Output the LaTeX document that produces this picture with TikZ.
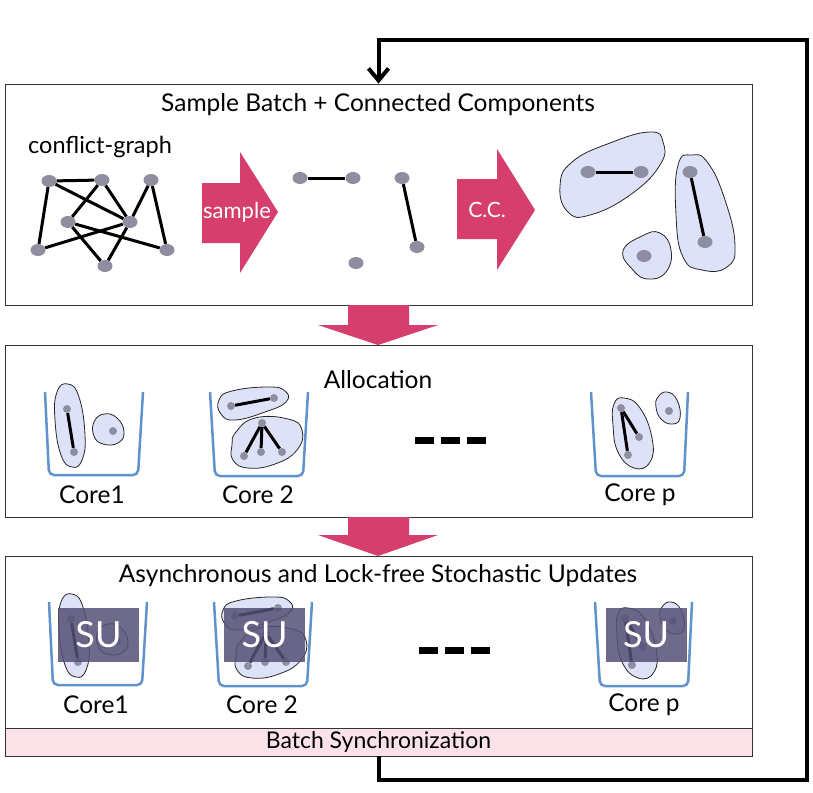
\documentclass[tikz,border=0pt]{standalone}
\usepackage{fontspec}
\setmainfont{Lato}
\usetikzlibrary{arrows.meta,shapes.geometric,positioning}

\definecolor{arrowpink}{RGB}{214,62,110}
\definecolor{vertexgray}{RGB}{142,142,160}
\definecolor{blobfill}{RGB}{222,226,248}
\definecolor{binblue}{RGB}{96,146,204}
\definecolor{sufill}{RGB}{84,80,118}
\definecolor{syncpink}{RGB}{250,226,232}

\tikzset{
  panel/.style={draw=black!80, line width=0.9pt, inner sep=0pt},
  vertex/.style={ellipse, fill=vertexgray, minimum width=15pt, minimum height=12pt, inner sep=0pt},
  dot/.style={circle, fill=vertexgray, minimum size=8pt, inner sep=0pt},
  gedge/.style={line width=3pt},
  blob/.style={draw=black!85, fill=blobfill, line width=0.8pt},
  bin/.style={draw=binblue, line width=2.5pt, rounded corners=5pt},
  coretext/.style={font=\fontsize{24.5}{28}\selectfont},
  subox/.style={fill=sufill, fill opacity=0.85, text opacity=1, text=white,
    minimum width=81pt, minimum height=54pt, inner sep=0pt, font=\fontsize{36}{40}\selectfont},
  feedback/.style={line width=4pt, line join=miter},
}

% the three cores with their components (mid panel coordinates)
\newcommand{\coreset}[1]{%
  % core 1
  \draw[bin] (45,392) -- (49,475) -- (138,475) -- (143,392);
  \draw[blob] plot[smooth cycle, tension=0.8] coordinates {(57,392) (68,384) (79,397) (85,435) (82,460) (72,467) (61,455) (55,420)};
  \draw[blob] plot[smooth cycle, tension=0.8] coordinates {(94,422) (104,414) (117,418) (124,432) (118,443) (103,444) (94,436)};
  \node[dot] (#1a1) at (67,409) {};
  \node[dot] (#1a2) at (74,452) {};
  \node[dot] (#1b1) at (113,431) {};
  \draw[gedge] (#1a1) -- (#1a2);
  \node[coretext] (#1core1) at (92,495) {Core1};
  % core 2
  \draw[bin] (210,392) -- (215,476) -- (303,476) -- (308,392);
  \draw[blob] plot[smooth cycle, tension=0.8] coordinates {(219,400) (232,391) (268,387) (285,391) (286,402) (265,412) (235,420) (221,414)};
  \draw[blob] plot[smooth cycle, tension=0.8] coordinates {(236,432) (255,418) (288,419) (302,430) (297,450) (275,464) (248,468) (233,460) (232,445)};
  \node[dot] (#1c1) at (231,406) {};
  \node[dot] (#1c2) at (274,398) {};
  \node[dot] (#1d0) at (262,423) {};
  \node[dot] (#1d1) at (244,456) {};
  \node[dot] (#1d2) at (261,452) {};
  \node[dot] (#1d3) at (282,452) {};
  \draw[gedge] (#1c1) -- (#1c2);
  \foreach \k in {1,2,3} \draw[gedge] (#1d0) -- (#1d\k);
  \node[coretext] (#1core2) at (258,495) {Core 2};
  % dots between
  \draw[line width=7pt, dash pattern=on 19pt off 7pt] (415,440) -- (486,440);
  % core p
  \draw[bin] (591,392) -- (596,476) -- (684,476) -- (688,392);
  \draw[blob] plot[smooth cycle, tension=0.8] coordinates {(614,404) (624,398) (640,408) (652,438) (650,462) (634,468) (618,452) (613,425)};
  \draw[blob] plot[smooth cycle, tension=0.8] coordinates {(658,397) (667,392) (677,400) (680,418) (672,424) (661,419) (656,407)};
  \node[dot] (#1e1) at (621,408) {};
  \node[dot] (#1e2) at (639,437) {};
  \node[dot] (#1e3) at (628,455) {};
  \node[dot] (#1f1) at (669,411) {};
  \draw[gedge] (#1e1) -- (#1e2);
  \draw[gedge] (#1e1) -- (#1e3);
  \node[coretext] (#1corep) at (640,495) {Core p};
}

\begin{document}
\begin{tikzpicture}[x=1pt, y=-1pt]
\useasboundingbox[fill=white] (0,0) rectangle (813,792);

% panels
\node[panel, minimum width=747pt, minimum height=221pt] (batchbox) at (378.5,194.5) {};
\node[panel, minimum width=747pt, minimum height=172pt] (allocbox) at (378.5,431) {};
\node[panel, minimum width=747pt, minimum height=172pt] (updatebox) at (378.5,642) {};
\node[panel, fill=syncpink, minimum width=747pt, minimum height=28pt] (syncbar) at (378.5,742) {};
\node[font=\fontsize{23}{26}\selectfont] (synctext) at (378.5,742) {Batch Synchronization};

\node[coretext] (batchtitle) at (378,105) {Sample Batch + Connected Components};
\node[coretext] (alloctitle) at (378,380) {Allocation};
\node[coretext] (updatetitle) at (378,576) {Asynchronous and Lock-free Stochastic Updates};

% conflict graph
\node[font=\fontsize{23.5}{27}\selectfont] (graphtitle) at (100,147) {conflict-graph};
\node[vertex] (g1) at (49,181) {};
\node[vertex] (g2) at (102,180) {};
\node[vertex] (g3) at (151,180) {};
\node[vertex] (g4) at (68,222) {};
\node[vertex] (g5) at (130,222) {};
\node[vertex] (g6) at (38,250) {};
\node[vertex] (g7) at (167,250) {};
\node[vertex] (g8) at (105,266) {};
\foreach \a/\b in {g1/g2, g1/g6, g1/g5, g2/g4, g2/g5, g3/g5, g3/g7, g4/g7, g4/g8, g6/g5, g5/g8}
  \draw[gedge] (\a) -- (\b);

% sample arrow
\fill[arrowpink] (202,183) -- (240,183) -- (240,152) -- (278,212) -- (240,273) -- (240,243) -- (202,243) -- cycle;
\node[text=white, font=\fontsize{22}{26}\selectfont] (sampletext) at (237,212) {sample};

% sampled edges
\node[vertex] (s1) at (300,178) {};
\node[vertex] (s2) at (353,178) {};
\node[vertex] (s3) at (402,178) {};
\node[vertex] (s4) at (417,247) {};
\node[vertex] (s5) at (356,263) {};
\draw[gedge] (s1) -- (s2);
\draw[gedge] (s3) -- (s4);

% C.C. arrow
\fill[arrowpink] (457,179) -- (497,179) -- (497,149) -- (535,210) -- (497,270) -- (497,239) -- (457,239) -- cycle;
\node[text=white, font=\fontsize{21}{25}\selectfont] (cctext) at (487,210) {C.C.};

% connected components
\draw[blob] plot[smooth cycle, tension=0.8] coordinates {(560,186) (572,162) (610,143) (650,132) (663,142) (660,165) (630,195) (590,215) (568,212)};
\draw[blob] plot[smooth cycle, tension=0.8] coordinates {(678,165) (692,155) (708,163) (725,200) (735,245) (727,267) (702,270) (683,257) (676,215)};
\draw[blob] plot[smooth cycle, tension=0.8] coordinates {(623,251) (642,236) (660,233) (671,250) (666,272) (648,279) (633,270)};
\node[vertex] (c1) at (588,172) {};
\node[vertex] (c2) at (641,172) {};
\node[vertex] (c3) at (690,172) {};
\node[vertex] (c4) at (705,242) {};
\node[vertex] (c5) at (644,256) {};
\draw[gedge] (c1) -- (c2);
\draw[gedge] (c3) -- (c4);

% pink arrows between panels
\fill[arrowpink] (348,305) -- (409,305) -- (409,325) -- (438,325) -- (378,345) -- (318,325) -- (348,325) -- cycle;
\fill[arrowpink] (348,517) -- (409,517) -- (409,535) -- (438,535) -- (378,556) -- (318,535) -- (348,535) -- cycle;

% allocation
\coreset{m}

% stochastic updates
\begin{scope}[shift={(4,210)}]
  \coreset{u}
  \node[subox] (su1) at (94.5,425) {SU};
  \node[subox] (su2) at (260.5,425) {SU};
  \node[subox] (sup) at (642,425) {SU};
\end{scope}

% feedback loop
\coordinate (botright) at (807,780);
\coordinate (topright) at (807,40);
\coordinate (topleft) at (378.5,40);
\draw[feedback, -{Straight Barb[length=12pt, width=20pt]}] (syncbar.south) |- (botright) -- (topright) -- (topleft) -- (batchbox.north);
\end{tikzpicture}
\end{document}
